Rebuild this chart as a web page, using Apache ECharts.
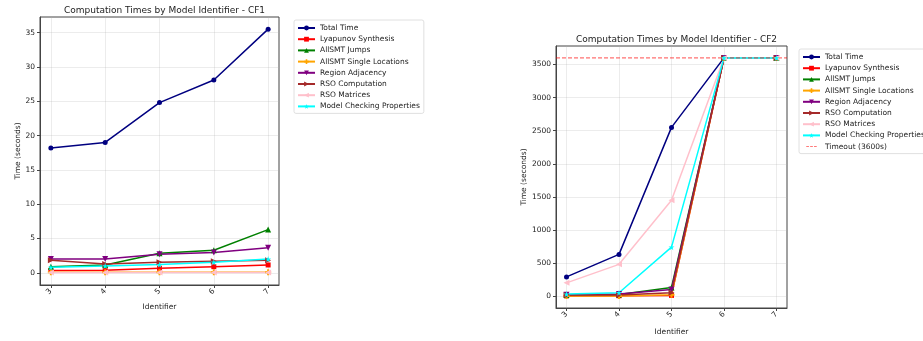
<!DOCTYPE html>
<html>
<head>
<meta charset="utf-8">
<script src="https://cdn.jsdelivr.net/npm/echarts@6/dist/echarts.min.js"></script>
<style>html,body{margin:0;padding:0;background:#fff;}#c{width:923px;height:341px;}</style>
</head>
<body>
<div id="c"></div>
<script>
const identifiers = [3, 4, 5, 6, 7];
const seriesNames = ['Total Time','Lyapunov Synthesis','AllSMT Jumps','AllSMT Single Locations','Region Adjacency','RSO Computation','RSO Matrices','Model Checking Properties'];
// CF1 values (seconds)
const cf1Total = [18.2, 19.0, 24.8, 28.1, 35.5];
const cf1Lyap = [0.35, 0.38, 0.67, 0.9, 1.15];
const cf1Jumps = [0.9, 1.15, 2.85, 3.3, 6.3];
const cf1Single = [0.08, 0.08, 0.08, 0.08, 0.08];
const cf1Region = [2.0, 2.0, 2.7, 2.95, 3.65];
const cf1RsoComp = [1.85, 1.3, 1.55, 1.7, 1.85];
const cf1RsoMat = [0.05, 0.05, 0.05, 0.05, 0.05];
const cf1Model = [0.8, 1.0, 1.2, 1.55, 2.0];
// CF2 values (seconds)
const cf2Total = [290, 630, 2550, 3600, 3600];
const cf2Lyap = [3, 5, 10, 3600, 3600];
const cf2Jumps = [15, 25, 130, 3600, 3600];
const cf2Single = [2, 3, 20, 3600, 3600];
const cf2Region = [20, 30, 100, 3600, 3600];
const cf2RsoComp = [15, 15, 50, 3600, 3600];
const cf2RsoMat = [200, 480, 1450, 3600, 3600];
const cf2Model = [30, 50, 740, 3600, 3600];
const timeoutValue = 3600;
const yTicks1 = [0, 5, 10, 15, 20, 25, 30, 35];
const yTicks2 = [0, 500, 1000, 1500, 2000, 2500, 3000, 3500];

const colors = ['#000080','#ff0000','#008000','#ffa500','#800080','#a52a2a','#ffc0cb','#00ffff'];
const symbols = [
  'circle','rect','triangle',
  'path://M-1,-3H1V-1H3V1H1V3H-1V1H-3V-1H-1Z',
  'path://M-1,-1L1,-1L0,1Z',
  'path://M-1,-1L1,0L-1,1Z',
  'path://M1,-1L-1,0L1,1Z',
  'path://M0,-1L0.2245,-0.309L0.951,-0.309L0.363,0.118L0.588,0.809L0,0.382L-0.588,0.809L-0.363,0.118L-0.951,-0.309L-0.2245,-0.309Z'
];
const sizes = [5,5,6,6,6,6,6,6];
const cf1 = [cf1Total, cf1Lyap, cf1Jumps, cf1Single, cf1Region, cf1RsoComp, cf1RsoMat, cf1Model];
const cf2 = [cf2Total, cf2Lyap, cf2Jumps, cf2Single, cf2Region, cf2RsoComp, cf2RsoMat, cf2Model];

const font = 'DejaVu Sans';
function mkX(gi) {
  return {
    type: 'value', gridIndex: gi, min: 2.8, max: 7.2,
    name: 'Identifier', nameLocation: 'middle', nameGap: gi === 0 ? 18 : 20,
    nameTextStyle: {fontFamily: font, fontSize: 7.5, color: '#222'},
    axisLine: {show: true, onZero: false, lineStyle: {color: '#444', width: 1}},
    axisTick: {show: true, customValues: identifiers, length: 3, lineStyle: {color: '#444'}},
    axisLabel: {customValues: identifiers, rotate: 45, fontFamily: font, fontSize: 7.5, color: '#222', margin: 5},
    splitLine: {show: true, lineStyle: {color: 'rgba(176,176,176,0.3)', width: 0.8}}
  };
}
function mkY(gi, min, max, ticks) {
  return {
    type: 'value', gridIndex: gi, min: min, max: max,
    name: 'Time (seconds)', nameLocation: 'middle', nameRotate: 90, nameGap: gi === 0 ? 18 : 27,
    nameTextStyle: {fontFamily: font, fontSize: 7.5, color: '#222'},
    axisLine: {show: true, onZero: false, lineStyle: {color: '#444', width: 1}},
    axisTick: {show: true, customValues: ticks, length: 3, lineStyle: {color: '#444'}},
    axisLabel: {customValues: ticks, fontFamily: font, fontSize: 7.5, color: '#222', margin: 5,
      formatter: v => String(v)},
    splitLine: {show: true, lineStyle: {color: 'rgba(176,176,176,0.3)', width: 0.8}}
  };
}
const series = [];
function addSeries(data, gi) {
  data.forEach((vals, i) => {
    series.push({
      type: 'line', name: seriesNames[i], xAxisIndex: gi, yAxisIndex: gi,
      data: identifiers.map((x, k) => [x, vals[k]]),
      symbol: symbols[i], symbolSize: sizes[i], showSymbol: true,
      itemStyle: {color: colors[i]},
      lineStyle: {color: colors[i], width: 1.5},
      emphasis: {disabled: true}, animation: false
    });
  });
}
addSeries(cf1, 0);
addSeries(cf2, 1);
series.push({
  type: 'line', name: 'Timeout (3600s)', xAxisIndex: 1, yAxisIndex: 1,
  data: [[2.8, timeoutValue], [7.2, timeoutValue]],
  symbol: 'none', itemStyle: {color: 'rgba(255,0,0,0.7)'},
  lineStyle: {color: 'rgba(255,0,0,0.7)', width: 1, type: [4, 2]},
  z: 3, animation: false
});
const dashIcon = 'path://M0,0L0.01,0L0.01,0.01Z M0,4.4H4.5V5.6H0Z M6.5,4.4H11V5.6H6.5Z M13,4.4H17.5V5.6H13Z M17.5,10L17.51,10L17.5,10.01Z';
const legendCommon = {
  orient: 'vertical', itemWidth: 17, itemHeight: 6, itemGap: 3.2,
  backgroundColor: '#fff', borderColor: '#d8d8d8', borderWidth: 0.8, borderRadius: 2,
  padding: [4, 4, 3, 3],
  textStyle: {fontFamily: font, fontSize: 7.5, color: '#222'},
  selectedMode: false
};
const option = {
  animation: false,
  title: [
    {text: 'Computation Times by Model Identifier - CF1', left: 159.5, top: 1, textAlign: 'center',
     textStyle: {fontFamily: font, fontSize: 9, fontWeight: 'normal', color: '#222'}},
    {text: 'Computation Times by Model Identifier - CF2', left: 671.5, top: 30, textAlign: 'center',
     textStyle: {fontFamily: font, fontSize: 9, fontWeight: 'normal', color: '#222'}}
  ],
  grid: [
    {left: 40, top: 17, width: 239, height: 268, show: true, borderColor: '#444', borderWidth: 1, backgroundColor: 'transparent'},
    {left: 556, top: 46, width: 231, height: 267, show: true, borderColor: '#444', borderWidth: 1, backgroundColor: 'transparent'}
  ],
  xAxis: [mkX(0), mkX(1)],
  yAxis: [mkY(0, -1.77, 37.27, yTicks1), mkY(1, -180, 3780, yTicks2)],
  legend: [
    Object.assign({}, legendCommon, {left: 294, top: 20, data: seriesNames}),
    Object.assign({}, legendCommon, {left: 799, top: 49,
      data: seriesNames.concat([{name: 'Timeout (3600s)', icon: dashIcon,
        itemStyle: {color: 'rgba(255,0,0,0.7)', borderWidth: 0}}])})
  ],
  series: series
};
const chart = echarts.init(document.getElementById('c'), null, {renderer: 'canvas'});
chart.setOption(option);
</script>
</body>
</html>
